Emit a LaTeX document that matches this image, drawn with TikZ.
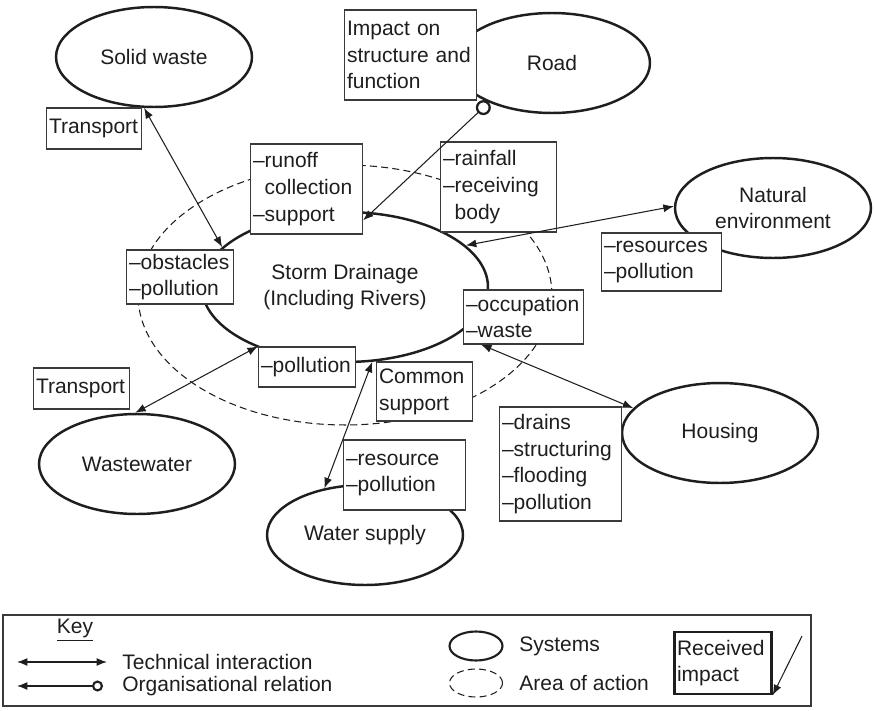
\documentclass[tikz,border=0pt]{standalone}
\usepackage{fontspec}
\setmainfont{Liberation Sans}
\usetikzlibrary{arrows.meta,positioning,shapes.geometric}
\definecolor{Ink}{HTML}{1E1E1E}
\definecolor{Frame}{HTML}{3A3A3A}

\begin{document}
\begin{tikzpicture}[
  x=0.02cm,y=-0.02cm,
  every node/.style={font=\fontsize{11.95}{15.2}\selectfont,text=Ink},
  sys/.style={ellipse,draw=Ink,line width=1.4pt,fill=white,minimum width=3.92cm,minimum height=2cm,inner sep=0pt,align=center},
  area/.style={ellipse,draw=Ink,line width=0.6pt,dash pattern=on 4pt off 2.4pt,minimum width=8.28cm,minimum height=5.2cm},
  note/.style={draw=Frame,line width=0.7pt,fill=white,align=left,inner xsep=0.05cm,inner ysep=0pt},
  lbl/.style={anchor=west,inner sep=0pt},
  link/.style={{Latex[length=2.1mm,width=1.6mm]}-{Latex[length=2.1mm,width=1.6mm]},line width=0.6pt,draw=Ink},
  orgrel/.style={{Circle[open,length=3mm,line width=1.3pt]}-{Latex[length=2.1mm,width=1.6mm]},line width=0.6pt,draw=Ink},
  orgkey/.style={{Circle[open,length=2.2mm,line width=1.2pt]}-{Latex[length=2.1mm,width=1.6mm]},line width=0.6pt,draw=Ink}
]
\useasboundingbox (0,0) rectangle (875,710);

% area of action and systems
\node[area] (act) at (345,295) {};
\node[sys,minimum width=5.72cm,minimum height=3cm] (storm) at (345,287) {Storm Drainage\\(Including Rivers)};
\node[sys] (solid) at (154,57) {Solid waste};
\node[sys] (road) at (552,63) {Road};
\node[sys] (natural) at (773,208) {Natural\\environment};
\node[sys] (housing) at (720,433) {Housing};
\node[sys] (supply) at (365,535) {Water supply};
\node[sys] (wastew) at (137,464) {Wastewater};

% received impacts
\node[note,text width=2.54cm,minimum height=1.8cm] (impact) at (410.5,55) {Impact on\\structure and\\function};
\node[note,text width=1.8cm,minimum height=0.82cm] (transpA) at (94,128.5) {Transport};
\node[note,text width=2.14cm,minimum height=1.8cm] (runoff) at (306.5,189) {–runoff\\\phantom{–}collection\\–support};
\node[note,text width=2.22cm,minimum height=1.8cm] (rain) at (498.5,187) {–rainfall\\–receiving\\\phantom{–}body};
\node[note,text width=2.3cm,minimum height=1.16cm] (resrc) at (661.5,262) {–resources\\–pollution};
\node[note,text width=2.04cm,minimum height=1.08cm] (obst) at (180,277) {–obstacles\\–pollution};
\node[note,text width=2.3cm,minimum height=1.08cm] (occup) at (523.5,317) {–occupation\\–waste};
\node[note,text width=1.82cm,minimum height=0.82cm] (transpB) at (81.5,388.5) {Transport};
\node[note,text width=1.84cm,minimum height=0.8cm] (pollu) at (307,367) {–pollution};
\node[note,text width=1.82cm,minimum height=1.18cm] (common) at (424.5,391.5) {Common\\support};
\node[note,text width=2.34cm,minimum height=2.28cm] (drains) at (560.5,464) {–drains\\–structuring\\–flooding\\–pollution};
\node[note,text width=2.34cm,minimum height=1.4cm] (resw) at (404.5,475) {–resource\\–pollution};

% interactions
\draw[link] (solid.-101) -- (storm.162);
\draw[orgrel] (road.-148) -- (runoff.-29);
\draw[link] (natural.179) -- (storm.19);
\draw[link] (housing.164) -- (occup.-147);
\draw[link] (wastew.92) -- (pollu.north west);
\draw[link] (supply.131) -- (storm.-70);

% key
\draw[Frame,line width=0.7pt] (3,615) rectangle (811,706);
\node[inner sep=0pt] (key) at (75,630) {\underline{Key}};
\coordinate (techA) at (17,662);
\coordinate (techB) at (107,662);
\draw[link] (techA) -- (techB);
\node[lbl] (techl) at (122,662) {Technical interaction};
\coordinate (orgA) at (103,686);
\coordinate (orgB) at (17,686);
\draw[orgkey] (orgA) -- (orgB);
\node[lbl] (orgl) at (122,686) {Organisational relation};
\node[sys,minimum width=1.06cm,minimum height=0.58cm,line width=1.2pt] (sysmark) at (476,646) {};
\node[lbl] (sysl) at (519,646) {Systems};
\node[area,minimum width=1.06cm,minimum height=0.56cm] (actmark) at (476,683) {};
\node[lbl] (actl) at (519,683) {Area of action};
\node[note,line width=1.4pt,draw=Ink,text width=1.84cm,minimum height=1.24cm] (recv) at (723,663) {Received\\impact};
\coordinate (recvA) at (802,636);
\draw[-{Latex[length=2.1mm,width=1.6mm]},line width=0.6pt,draw=Ink] (recvA) -- (recv.south east);
\end{tikzpicture}
\end{document}
